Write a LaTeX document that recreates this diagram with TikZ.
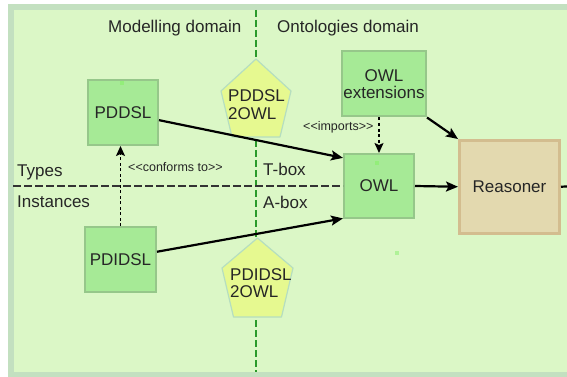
\documentclass[tikz,border=0pt]{standalone}
\usepackage{fontspec}
\setmainfont{Liberation Sans}
\usetikzlibrary{arrows.meta,calc}

\definecolor{framecol}{HTML}{C3E0C0}
\definecolor{bgcol}{HTML}{DBF7C6}
\definecolor{boxfill}{HTML}{A6EA96}
\definecolor{boxline}{HTML}{96C78A}
\definecolor{pentfill}{HTML}{E6F990}
\definecolor{pentline}{HTML}{B5DEC0}
\definecolor{reasfill}{HTML}{E3D9AF}
\definecolor{reasline}{HTML}{D3BD8F}
\definecolor{divcol}{HTML}{2A9A2A}
\definecolor{dotcol}{HTML}{93EE7A}

\begin{document}
\begin{tikzpicture}[x=1pt,y=-1pt,
  bigtext/.style={font=\fontsize{17}{17}\selectfont, text=black!85},
  smalltext/.style={font=\fontsize{12.5}{14}\selectfont, text=black!85},
  gbox/.style={draw=boxline, fill=boxfill, line width=2pt, inner sep=0pt,
    align=center, bigtext},
  rbox/.style={draw=reasline, fill=reasfill, line width=3pt, inner sep=0pt,
    bigtext},
  pent/.style={draw=pentline, fill=pentfill, line width=1.2pt, line join=round},
  divider/.style={draw=divcol, line width=1.4pt, dash pattern=on 7pt off 3pt},
  levelline/.style={draw=black!80, line width=1.5pt, dash pattern=on 8pt off 3pt},
  flow/.style={draw=black, line width=2.2pt, -{Stealth[length=12pt,width=10pt,inset=2.5pt]}},
  dep/.style={draw=black, line width=1.4pt, dash pattern=on 3pt off 2.5pt,
    -{Stealth[length=10pt,width=9pt,inset=2pt]}},
  marker/.style={fill=dotcol, minimum size=4pt, inner sep=0pt}]

\useasboundingbox (0,0) rectangle (567,377);
\clip (0,0) rectangle (567,377);
\fill[white] (0,0) rectangle (567,377);

% framed background panel
\draw[framecol, line width=6pt, fill=bgcol] (11,7) rectangle (620,374.5);

% domain divider
\coordinate (divtop) at (256,10);
\coordinate (divbot) at (256,372);
\draw[divider] (divtop) -- (divbot);

% boxes
\node[gbox, minimum width=70pt, minimum height=65pt] (pddsl) at (123,112.5) {PDDSL};
\node[gbox, minimum width=71pt, minimum height=65pt] (pdidsl) at (120.5,259.5) {PDIDSL};
\node[gbox, minimum width=84pt, minimum height=65pt] (owlext) at (384,84) {OWL\\extensions};
\node[gbox, minimum width=70pt, minimum height=64pt] (owl) at (379,186) {OWL};
\node[rbox, minimum width=100pt, minimum height=92.5pt] (reasoner) at (509.5,186.75) {Reasoner};

% type/instance level line
\coordinate (levelstart) at (13,186);
\draw[levelline] (levelstart) -- (owl.west);

% transformation pentagons
\draw[pent] (256,59) -- (291,91) -- (280,137) -- (232,137) -- (221,91) -- cycle;
\draw[pent] (257.5,238) -- (293,268) -- (281.5,317) -- (233.5,317) -- (222,268) -- cycle;
\node[bigtext, anchor=base west, inner sep=0pt] (t1a) at (228,101.7) {PDDSL};
\node[bigtext, anchor=base west, inner sep=0pt] (t1b) at (228,119.2) {2OWL};
\node[bigtext, anchor=base west, inner sep=0pt] (t2a) at (230,280) {PDIDSL};
\node[bigtext, anchor=base west, inner sep=0pt] (t2b) at (230,297.2) {2OWL};

% small connection markers
\node[marker] (m1) at (121.7,83.3) {};
\node[marker] (m2) at (377.3,163.3) {};
\node[marker, fill=dotcol!60!bgcol] (m3) at (397,253) {};

% headings and level labels
\node[bigtext, anchor=base west, inner sep=0pt] (hmod) at (108,32.7) {Modelling domain};
\node[bigtext, anchor=base west, inner sep=0pt] (hont) at (277,32.7) {Ontologies domain};
\node[bigtext, anchor=base west, inner sep=0pt] (ltypes) at (17,176.7) {Types};
\node[bigtext, anchor=base west, inner sep=0pt] (linst) at (17,207.7) {Instances};
\node[bigtext, anchor=base west, inner sep=0pt] (ltbox) at (263,175) {T-box};
\node[bigtext, anchor=base west, inner sep=0pt] (labox) at (263,208.3) {A-box};

% connectors
\draw[flow] (pddsl.-12) -- (owl.142);
\draw[flow] (pdidsl.12) -- (owl.222);
\draw[flow] (owl.east) -- (reasoner.west);
\draw[flow] (owlext.south east) -- (reasoner.north west);
\coordinate (outedge) at (575,186);
\draw[draw=black, line width=2.2pt] (reasoner.east) -- (outedge);

\draw[dep] (pdidsl.north) -- (pdidsl.north |- pddsl.south);
\node[smalltext, anchor=base west, inner sep=0pt] (lconf) at (128,171) {{<}{<}conforms to{>}{>}};
\draw[dep] (owlext.south -| owl.north) -- (owl.north);
\node[smalltext, anchor=base west, inner sep=0pt] (limp) at (303,131) {{<}{<}imports{>}{>}};

\end{tikzpicture}
\end{document}
